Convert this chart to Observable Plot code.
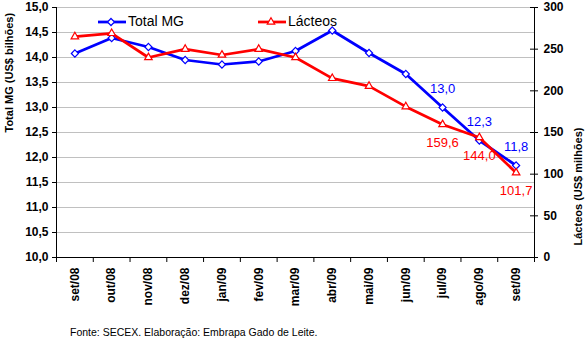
<!DOCTYPE html>
<html>
<head>
<meta charset="utf-8">
<script src="https://cdn.jsdelivr.net/npm/d3@7"></script>
<script src="https://cdn.jsdelivr.net/npm/@observablehq/plot@0.6"></script>
<style>
  body { margin: 0; background: #fff; font-family: "Liberation Sans", Arial, sans-serif; }
  #wrap { position: relative; width: 586px; height: 340px; }
  #legend { position: absolute; top: 13px; left: 98px; display: flex; align-items: center; font-size: 14px; color: #000; }
  #legend .item { display: flex; align-items: center; }
  #legend svg { display: block; }
  #footer { position: absolute; top: 326px; left: 70px; font-size: 10.5px; color: #000; white-space: nowrap; }
</style>
</head>
<body>
<div id="wrap">
  <div id="chart"></div>
  <div id="legend"></div>
  <div id="footer">Fonte: SECEX. Elaboração: Embrapa Gado de Leite.</div>
</div>
<script>
// ---- data ----
const months = ["set/08","out/08","nov/08","dez/08","jan/09","fev/09","mar/09","abr/09","mai/09","jun/09","jul/09","ago/09","set/09"];
const totalMG = [14.08, 14.39, 14.21, 13.95, 13.86, 13.92, 14.13, 14.54, 14.09, 13.67, 13.0, 12.34, 11.84]; // US$ bilhões
const lacteos = [265, 269, 240, 250, 243, 250, 240, 215, 205.6, 181, 159.6, 144.0, 101.7]; // US$ milhões
const labelledMonths = ["jul/09","ago/09","set/09"];
const leftTicks = [10, 10.5, 11, 11.5, 12, 12.5, 13, 13.5, 14, 14.5, 15];
const rightTicks = [0, 50, 100, 150, 200, 250, 300];
const seriesNames = ["Total MG", "Lácteos"];

const BLUE = "#0000FF", RED = "#FF0000";
const FONT = "'Liberation Sans', Arial, sans-serif";

// secondary axis (0–300) mapped onto primary scale (10–15)
const toLeft = v => 10 + v / 60;
const fmt = v => v.toFixed(1).replace(".", ",");

const blue = months.map((m, i) => ({month: m, x: i + 0.5, y: totalMG[i], v: totalMG[i]}));
const red = months.map((m, i) => ({month: m, x: i + 0.5, y: toLeft(lacteos[i]), v: lacteos[i]}));

const chart = Plot.plot({
  width: 586,
  height: 305,
  marginTop: 7,
  marginBottom: 48,
  marginLeft: 56,
  marginRight: 52,
  style: {fontFamily: FONT, color: "#000", background: "transparent", overflow: "visible"},
  x: {type: "linear", domain: [0, months.length]},
  y: {domain: [10, 15]},
  marks: [
    Plot.ruleY(leftTicks.slice(1), {stroke: "#c0c0c0", strokeWidth: 1}),
    Plot.ruleX([0], {stroke: "#000", strokeWidth: 1}),
    Plot.ruleX([months.length], {stroke: "#000", strokeWidth: 1}),
    Plot.ruleY([10], {stroke: "#000", strokeWidth: 1}),
    // left axis
    Plot.axisY(leftTicks, {anchor: "left", tickSize: 4, tickPadding: 4, tickFormat: fmt,
      fontSize: 12, fontWeight: "bold", label: null}),
    // right axis (secondary)
    Plot.axisY(rightTicks.map(toLeft), {anchor: "right", tickSize: 0, tickPadding: 9,
      tickFormat: d => String(Math.round((d - 10) * 60)), fontSize: 12, fontWeight: "bold", label: null}),
    Plot.ruleY(rightTicks.map(toLeft), {x1: months.length, x2: months.length, insetLeft: -4, insetRight: -4, stroke: "#000"}),
    // x axis: boundary ticks + centred rotated labels
    Plot.axisX(d3.range(months.length + 1), {anchor: "bottom", tickSize: 5, tickFormat: () => "", label: null}),
    Plot.axisX(months.map((m, i) => i + 0.5), {anchor: "bottom", tickSize: 0, tickPadding: 10, tickRotate: -90,
      tickFormat: d => months[Math.floor(d)], fontSize: 12, fontWeight: "bold", label: null}),
    // axis titles
    Plot.text(["Total MG (US$ bilhões)"], {frameAnchor: "left", dx: -47, rotate: -90, fontSize: 11, fontWeight: "bold", fill: "#000"}),
    Plot.text(["Lácteos (US$ milhões)"], {frameAnchor: "right", dx: 44, dy: -5, rotate: -90, fontSize: 11, fontWeight: "bold", fill: "#000"}),
    // series
    Plot.line(blue, {x: "x", y: "y", stroke: BLUE, strokeWidth: 2.75}),
    Plot.dot(blue, {x: "x", y: "y", symbol: "diamond2", r: 3.2, stroke: BLUE, fill: "#fff", strokeWidth: 1.2}),
    Plot.line(red, {x: "x", y: "y", stroke: RED, strokeWidth: 2.75}),
    Plot.dot(red, {x: "x", y: "y", symbol: "triangle2", r: 3.6, stroke: RED, fill: "#fff", strokeWidth: 1.2}),
    // data labels
    Plot.text(blue.filter(d => labelledMonths.includes(d.month)), {x: "x", y: "y", text: d => fmt(d.v), dy: -19,
      fill: BLUE, fontSize: 13}),
    Plot.text(red.filter(d => labelledMonths.includes(d.month)), {x: "x", y: "y", text: d => fmt(d.v), dy: 18,
      fill: RED, fontSize: 13})
  ]
});
document.getElementById("chart").appendChild(chart);

// legend
const legend = document.getElementById("legend");
const swatch = (color, kind) => {
  const s = d3.create("svg").attr("width", 30).attr("height", 14);
  s.append("line").attr("x1", 0).attr("x2", 28).attr("y1", 8).attr("y2", 8).attr("stroke", color).attr("stroke-width", 2.75);
  const sym = kind === "diamond" ? d3.symbolDiamond2 : d3.symbolTriangle2;
  s.append("path").attr("d", d3.symbol(sym, kind === "diamond" ? 32 : 40)()).attr("transform", "translate(13,8)")
    .attr("fill", "#fff").attr("stroke", color).attr("stroke-width", 1.2);
  return s.node();
};
[[seriesNames[0], BLUE, "diamond", 0], [seriesNames[1], RED, "triangle", 74]].forEach(([name, color, kind, gap]) => {
  const item = document.createElement("div");
  item.className = "item";
  item.style.marginLeft = gap + "px";
  item.appendChild(swatch(color, kind));
  const t = document.createElement("span");
  t.textContent = name;
  item.appendChild(t);
  legend.appendChild(item);
});
</script>
</body>
</html>
